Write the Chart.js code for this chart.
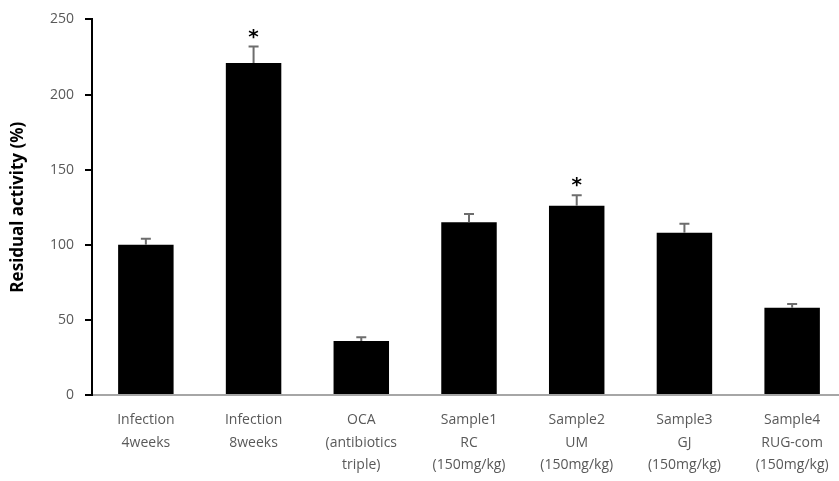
<!DOCTYPE html>
<html>
<head>
<meta charset="utf-8">
<script src="https://cdn.jsdelivr.net/npm/chart.js@4.4.0/dist/chart.umd.min.js"></script>
<style>
  html, body { margin: 0; padding: 0; background: #fff; overflow: hidden; }
  #wrap { width: 846px; height: 481px; }
</style>
</head>
<body>
<div id="wrap"><canvas id="grafico" width="846" height="481"></canvas></div>
<script>
// dados do grafico
var categorias = [
    ['Infection', '4weeks'],
    ['Infection', '8weeks'],
    ['OCA', '(antibiotics', 'triple)'],
    ['Sample1', 'RC', '(150mg/kg)'],
    ['Sample2', 'UM', '(150mg/kg)'],
    ['Sample3', 'GJ', '(150mg/kg)'],
    ['Sample4', 'RUG-com', '(150mg/kg)']
];
var valores = [100, 221, 36, 115, 126, 108, 58];
var erros = [4, 11, 2.5, 5.5, 7, 6, 2.5];
var marcas = ['', '*', '', '', '*', '', ''];
var ticksY = [0, 50, 100, 150, 200, 250];

// barras de erro + asteriscos
var errorBars = {
    id: 'errorBars',
    afterDatasetsDraw: function(chart) {
        var ctx = chart.ctx;
        var meta = chart.getDatasetMeta(0);
        var y = chart.scales.y;
        ctx.save();
        meta.data.forEach(function(bar, i) {
            var topo = y.getPixelForValue(valores[i] + erros[i]);
            var base = y.getPixelForValue(valores[i]);
            ctx.strokeStyle = '#6d6d6d';
            ctx.lineWidth = 2;
            ctx.beginPath();
            ctx.moveTo(bar.x, base);
            ctx.lineTo(bar.x, topo);
            ctx.moveTo(bar.x - 5, topo);
            ctx.lineTo(bar.x + 5, topo);
            ctx.stroke();
            if (marcas[i]) {
                ctx.fillStyle = '#000';
                ctx.font = 'bold 20px "DejaVu Sans"';
                ctx.textAlign = 'center';
                ctx.textBaseline = 'middle';
                ctx.fillText(marcas[i], bar.x, topo - 9);
            }
        });
        ctx.restore();
    }
};

window.onload = function(){
    var contexto = document.getElementById("grafico").getContext("2d");
    var grafico = new Chart(contexto, {
        type: 'bar',
        data: {
            labels: categorias,
            datasets: [{
                label: 'Residual activity',
                backgroundColor: '#000000',
                borderWidth: 0,
                data: valores,
                barPercentage: 0.515,
                categoryPercentage: 1.0
            }]
        },
        options: {
            responsive: false,
            animation: false,
            layout: { padding: { top: 12, right: 0, left: 8, bottom: 0 } },
            plugins: {
                legend: { display: false },
                tooltip: { enabled: false }
            },
            scales: {
                x: {
                    grid: { display: false, drawTicks: false },
                    border: { display: true, color: '#a6a6a6', width: 2 },
                    ticks: {
                        color: '#595959',
                        font: { family: '"Open Sans", "Noto Sans"', size: 14, lineHeight: 1.6 },
                        padding: 14,
                        maxRotation: 0,
                        autoSkip: false
                    },
                    afterFit: function(scale) { scale.height = 86; }
                },
                y: {
                    min: 0,
                    max: 250,
                    afterBuildTicks: function(scale) {
                        scale.ticks = ticksY.map(function(v) { return { value: v }; });
                    },
                    grid: { drawOnChartArea: false, drawTicks: true, tickLength: 7, color: '#000', lineWidth: 2 },
                    border: { display: true, color: '#000', width: 2 },
                    ticks: {
                        color: '#595959',
                        font: { family: '"Open Sans", "Noto Sans"', size: 14 },
                        padding: 11
                    },
                    title: {
                        display: true,
                        text: 'Residual activity (%)',
                        color: '#000',
                        font: { family: '"Noto Sans", "Open Sans"', size: 17, weight: 'bold' },
                        padding: { top: 0, bottom: 0 }
                    },
                    afterFit: function(scale) { scale.width = 84; }
                }
            }
        },
        plugins: [errorBars]
    });
};
</script>
</body>
</html>
